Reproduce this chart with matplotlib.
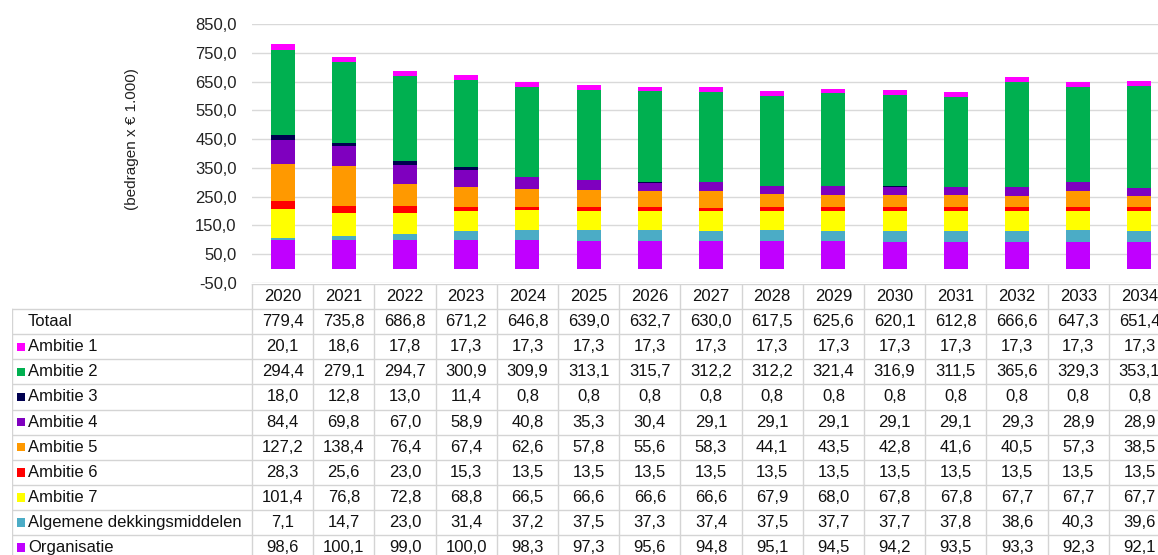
import matplotlib
matplotlib.use("Agg")
import matplotlib.pyplot as plt
from matplotlib.patches import Rectangle
import numpy as np

plt.rcParams['font.family'] = ['Liberation Sans', 'DejaVu Sans']

years = [str(y) for y in range(2020, 2035)]

# series, bottom of the stack first
organisatie = [98.6, 100.1, 99.0, 100.0, 98.3, 97.3, 95.6, 94.8, 95.1, 94.5, 94.2, 93.5, 93.3, 92.3, 92.1]
algemene = [7.1, 14.7, 23.0, 31.4, 37.2, 37.5, 37.3, 37.4, 37.5, 37.7, 37.7, 37.8, 38.6, 40.3, 39.6]
ambitie7 = [101.4, 76.8, 72.8, 68.8, 66.5, 66.6, 66.6, 66.6, 67.9, 68.0, 67.8, 67.8, 67.7, 67.7, 67.7]
ambitie6 = [28.3, 25.6, 23.0, 15.3, 13.5, 13.5, 13.5, 13.5, 13.5, 13.5, 13.5, 13.5, 13.5, 13.5, 13.5]
ambitie5 = [127.2, 138.4, 76.4, 67.4, 62.6, 57.8, 55.6, 58.3, 44.1, 43.5, 42.8, 41.6, 40.5, 57.3, 38.5]
ambitie4 = [84.4, 69.8, 67.0, 58.9, 40.8, 35.3, 30.4, 29.1, 29.1, 29.1, 29.1, 29.1, 29.3, 28.9, 28.9]
ambitie3 = [18.0, 12.8, 13.0, 11.4, 0.8, 0.8, 0.8, 0.8, 0.8, 0.8, 0.8, 0.8, 0.8, 0.8, 0.8]
ambitie2 = [294.4, 279.1, 294.7, 300.9, 309.9, 313.1, 315.7, 312.2, 312.2, 321.4, 316.9, 311.5, 365.6, 329.3, 353.1]
ambitie1 = [20.1, 18.6, 17.8, 17.3, 17.3, 17.3, 17.3, 17.3, 17.3, 17.3, 17.3, 17.3, 17.3, 17.3, 17.3]
totaal = [779.4, 735.8, 686.8, 671.2, 646.8, 639.0, 632.7, 630.0, 617.5, 625.6, 620.1, 612.8, 666.6, 647.3, 651.4]

stack = [
    ("Organisatie", organisatie, "#c000ff"),
    ("Algemene dekkingsmiddelen", algemene, "#4bacc6"),
    ("Ambitie 7", ambitie7, "#ffff00"),
    ("Ambitie 6", ambitie6, "#ff0000"),
    ("Ambitie 5", ambitie5, "#ff9900"),
    ("Ambitie 4", ambitie4, "#7f00bf"),
    ("Ambitie 3", ambitie3, "#000050"),
    ("Ambitie 2", ambitie2, "#00b050"),
    ("Ambitie 1", ambitie1, "#ff00ff"),
]

W, H = 1158, 555
fig = plt.figure(figsize=(W / 100, H / 100), dpi=100)

col_w = 61.2
left_px = 252
right_px = left_px + 15 * col_w
txt_c = "#111111"
fs = 12

# bar chart
ax = fig.add_axes([left_px / W, (H - 283) / H, (right_px - left_px) / W, (283 - 24) / H])
x = np.arange(len(years))
bottom = np.zeros(len(years))
for name, vals, color in stack:
    ax.bar(x, vals, 0.39, bottom=bottom, color=color, zorder=2)
    bottom += np.array(vals)

ax.set_xlim(-0.5, len(years) - 0.5)
ax.set_ylim(-50, 850)
yt = np.arange(-50, 851, 100)
ax.set_yticks(yt)
ax.set_yticklabels([f"{v:.1f}".replace('.', ',') for v in yt], fontsize=fs, color="#222222")
ax.set_xticks([])
ax.tick_params(axis='y', length=0, pad=11)
ax.grid(axis='y', color="#d9d9d9", linewidth=1, zorder=0)
for s in ax.spines.values():
    s.set_visible(False)
fig.text(132 / W, 1 - 139 / H, "(bedragen x € 1.000)", rotation=90, ha='center', va='center',
         fontsize=11, color="#222222")

# data table underneath
tab_left = 12
lw = (left_px - tab_left) / col_w
row_top = 284
row_h = 25.1
n_rows = 2 + len(stack)
tab = fig.add_axes([tab_left / W, (H - (row_top + n_rows * row_h)) / H,
                    (right_px - tab_left) / W, n_rows * row_h / H])
tab.set_xlim(-lw, len(years))
tab.set_ylim(n_rows, 0)
tab.axis('off')

line_c = "#d4d4d4"
# header row: only the year columns
tab.plot([0, len(years)], [0, 0], color=line_c, lw=1)
for i in range(len(years) + 1):
    tab.plot([i, i], [0, n_rows], color=line_c, lw=1)
for r in range(1, n_rows + 1):
    tab.plot([-lw, len(years)], [r, r], color=line_c, lw=1)
tab.plot([-lw, -lw], [1, n_rows], color=line_c, lw=1)

for i, yr in enumerate(years):
    tab.text(i + 0.5, 0.5, yr, ha='center', va='center', fontsize=fs, color=txt_c)

fmt = lambda v: f"{v:.1f}".replace('.', ',')
sq_w = 8.5 / col_w
sq_h = 8.5 / row_h
rows = [("Totaal", totaal, None)] + list(reversed(stack))
for r, (name, vals, color) in enumerate(rows, start=1):
    yc = r + 0.5
    if color is not None:
        tab.add_patch(Rectangle((-lw + 5 / col_w, yc - sq_h / 2), sq_w, sq_h,
                                facecolor=color, edgecolor='none'))
    tab.text(-lw + 16 / col_w, yc, name, ha='left', va='center', fontsize=fs, color=txt_c)
    for i, v in enumerate(vals):
        tab.text(i + 0.5, yc, fmt(v), ha='center', va='center', fontsize=fs, color=txt_c)

fig.savefig("out.png", dpi=100)
